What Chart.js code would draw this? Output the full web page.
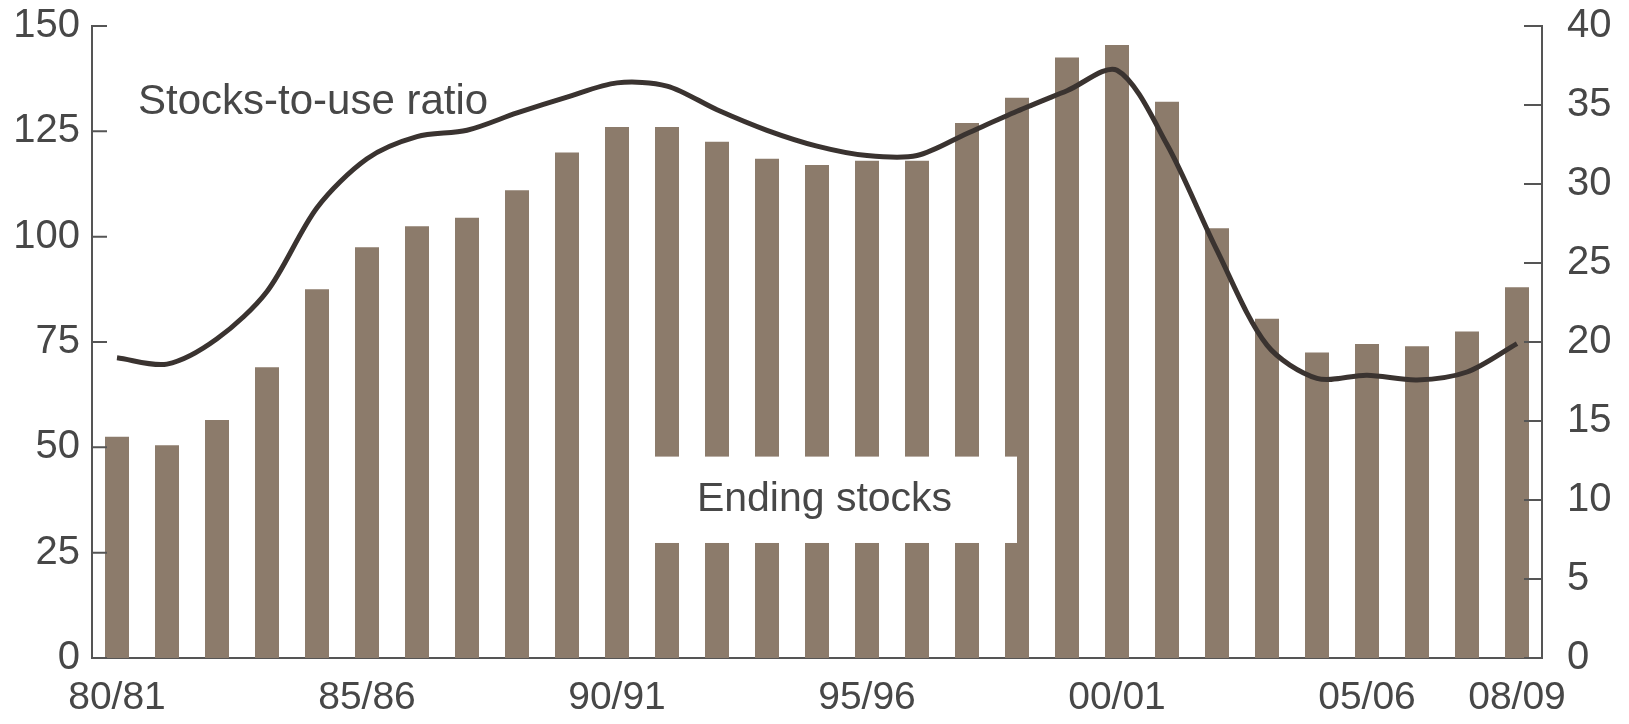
<!DOCTYPE html>
<html>
<head>
<meta charset="utf-8">
<script src="https://cdn.jsdelivr.net/npm/chart.js@4.4.1/dist/chart.umd.min.js"></script>
<style>
  html, body { margin: 0; padding: 0; background: #fff; }
  #wrap { width: 1629px; height: 724px; }
</style>
</head>
<body>
<div id="wrap"><canvas id="chart" width="1629" height="724"></canvas></div>
<script>
// --- data ---
const seasons = ['80/81','81/82','82/83','83/84','84/85','85/86','86/87','87/88','88/89','89/90',
                 '90/91','91/92','92/93','93/94','94/95','95/96','96/97','97/98','98/99','99/00',
                 '00/01','01/02','02/03','03/04','04/05','05/06','06/07','07/08','08/09'];
const labelledSeasons = ['80/81','85/86','90/91','95/96','00/01','05/06','08/09'];

// ending stocks (left axis)
const endingStocks = [52.5, 50.5, 56.5, 69, 87.5, 97.5, 102.5, 104.5, 111, 120,
                      126, 126, 122.5, 118.5, 117, 118, 118, 127, 133, 142.5,
                      145.5, 132, 102, 80.5, 72.5, 74.5, 74, 77.5, 88];
// stocks-to-use ratio, % (right axis)
const stocksToUse = [19.0, 18.6, 20.2, 23.2, 28.5, 31.6, 33.0, 33.4, 34.5, 35.5,
                     36.4, 36.2, 34.7, 33.4, 32.4, 31.8, 31.8, 33.2, 34.6, 35.9,
                     37.2, 32.5, 25.8, 19.8, 17.7, 17.9, 17.6, 18.1, 19.9];

const leftTicks = { min: 0, max: 150, step: 25 };
const rightTicks = { min: 0, max: 40, step: 5 };

const FONT = "'Liberation Sans', Arial, sans-serif";
const TXT = '#474747';
const AXIS = '#555';

// inward tick marks + text annotations
const decor = {
  id: 'decor',
  afterDatasetsDraw(chart) {
    const { ctx, chartArea: a, scales } = chart;
    const x = scales.x, yl = scales.y;
    ctx.save();
    // white label box over the bars
    const bx0 = x.getPixelForValue(10.3), bx1 = x.getPixelForValue(18.0);
    const by0 = yl.getPixelForValue(47.8), by1 = yl.getPixelForValue(27.3);
    ctx.fillStyle = '#fff';
    ctx.fillRect(bx0, by0, bx1 - bx0, by1 - by0);
    ctx.fillStyle = TXT;
    ctx.font = '41px ' + FONT;
    ctx.textAlign = 'center';
    ctx.textBaseline = 'middle';
    ctx.fillText('Ending stocks', (bx0 + bx1) / 2, (by0 + by1) / 2);
    ctx.font = '42px ' + FONT;
    ctx.textAlign = 'left';
    ctx.textBaseline = 'alphabetic';
    ctx.fillText('Stocks-to-use ratio', a.left + 46, yl.getPixelForValue(129));
    ctx.restore();
  },
  afterDraw(chart) {
    const { ctx, chartArea: a, scales } = chart;
    ctx.save();
    ctx.strokeStyle = AXIS;
    ctx.lineWidth = 2;
    ctx.beginPath();
    scales.y.ticks.forEach(t => {
      const py = scales.y.getPixelForValue(t.value);
      ctx.moveTo(a.left, py); ctx.lineTo(a.left + 15, py);
    });
    scales.y1.ticks.forEach(t => {
      const py = scales.y1.getPixelForValue(t.value);
      ctx.moveTo(a.right, py); ctx.lineTo(a.right - 18, py);
    });
    ctx.stroke();
    ctx.restore();
  }
};

// keep the plot box where the reference has it
const fixY = w => s => { s.width = w; s.paddingTop = 0; s.paddingBottom = 0; };

new Chart(document.getElementById('chart'), {
  data: {
    labels: seasons,
    datasets: [
      {
        type: 'line',
        label: 'Stocks-to-use ratio',
        data: stocksToUse,
        yAxisID: 'y1',
        borderColor: '#3a3330',
        borderWidth: 5,
        pointRadius: 0,
        tension: 0.3,
        fill: false,
        order: 0
      },
      {
        type: 'bar',
        label: 'Ending stocks',
        data: endingStocks,
        yAxisID: 'y',
        backgroundColor: '#8c7b6b',
        categoryPercentage: 1,
        barPercentage: 0.48,
        order: 1
      }
    ]
  },
  options: {
    responsive: false,
    animation: false,
    devicePixelRatio: 1,
    layout: { padding: { top: 26, right: 0, bottom: 0, left: 0 } },
    plugins: { legend: { display: false }, tooltip: { enabled: false } },
    scales: {
      x: {
        offset: true,
        grid: { display: false, drawTicks: false },
        border: { display: true, color: AXIS, width: 2 },
        ticks: {
          autoSkip: false, maxRotation: 0, padding: 17,
          color: TXT, font: { family: FONT, size: 39 },
          callback: (v, i) => labelledSeasons.includes(seasons[i]) ? seasons[i] : ''
        },
        afterFit: s => { s.height = 66; }
      },
      y: {
        position: 'left',
        min: leftTicks.min, max: leftTicks.max,
        grid: { display: false, drawTicks: false },
        border: { display: true, color: AXIS, width: 2 },
        ticks: { stepSize: leftTicks.step, padding: 12, color: TXT, font: { family: FONT, size: 40 } },
        afterFit: fixY(92)
      },
      y1: {
        position: 'right',
        min: rightTicks.min, max: rightTicks.max,
        grid: { display: false, drawTicks: false },
        border: { display: true, color: AXIS, width: 2 },
        ticks: { stepSize: rightTicks.step, padding: 25, color: TXT, font: { family: FONT, size: 40 } },
        afterFit: fixY(87)
      }
    }
  },
  plugins: [decor]
});
</script>
</body>
</html>
